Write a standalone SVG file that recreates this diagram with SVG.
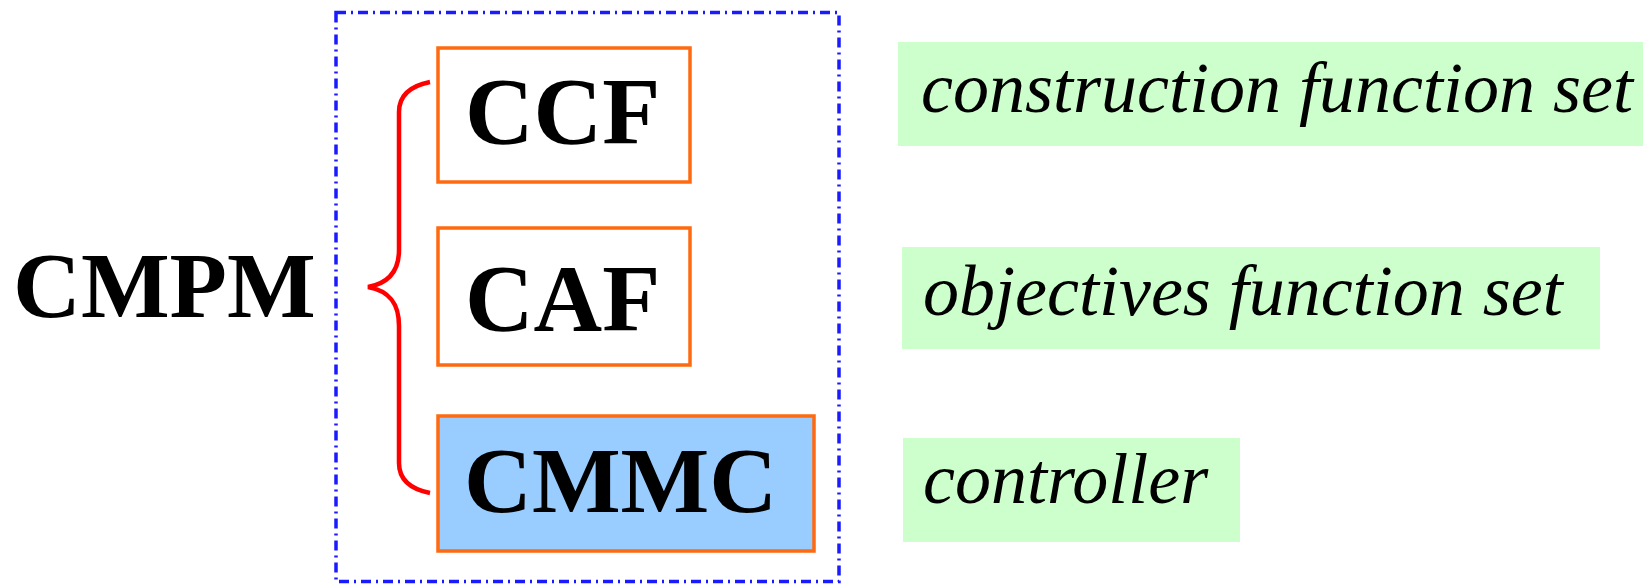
<svg xmlns="http://www.w3.org/2000/svg" width="1643" height="586" viewBox="0 0 1643 586">
<style>
.bold{font-family:"Liberation Serif","Times New Roman",serif;font-weight:bold;fill:#000}
.ital{font-family:"Liberation Serif","Times New Roman",serif;font-style:italic;font-size:72px;fill:#000}
.box{fill:#fff;stroke:#ff6a10;stroke-width:3.5}
.lbl{fill:#ccffcc}
</style>
<rect width="1643" height="586" fill="#fff"/>
<g id="frame">
<rect x="336" y="12.5" width="503" height="569" fill="none" stroke="#1a1aff" stroke-width="3.5" stroke-dasharray="10 5 2 5"/>
</g>
<g id="cmpm"><text class="bold" x="13" y="317" font-size="94">CMPM</text></g>
<g id="connectors">
<path d="M430,82 C410,86 399,96 399,112 L399,250 C399,270 390,283 368,287 C390,291 399,304 399,326 L399,463 C399,480 410,489 430,493" fill="none" stroke="#ff0000" stroke-width="4.5"/>
</g>
<g id="ccf"><rect class="box" x="438" y="48" width="252" height="134"/><text class="bold" x="465" y="144" font-size="95">CCF</text></g>
<g id="caf"><rect class="box" x="438" y="228" width="252" height="137"/><text class="bold" x="465" y="331" font-size="95">CAF</text></g>
<g id="cmmc"><rect class="box" x="438" y="416" width="376" height="135" style="fill:#99ccff"/><text class="bold" x="464" y="512" font-size="94">CMMC</text></g>
<g id="label1"><rect class="lbl" x="898" y="42" width="745" height="104"/><text class="ital" x="921" y="112">construction function set</text></g>
<g id="label2"><rect class="lbl" x="902" y="247" width="698" height="102"/><text class="ital" x="923" y="315">objectives function set</text></g>
<g id="label3"><rect class="lbl" x="903" y="438" width="337" height="104"/><text class="ital" x="923" y="503">controller</text></g>
</svg>
